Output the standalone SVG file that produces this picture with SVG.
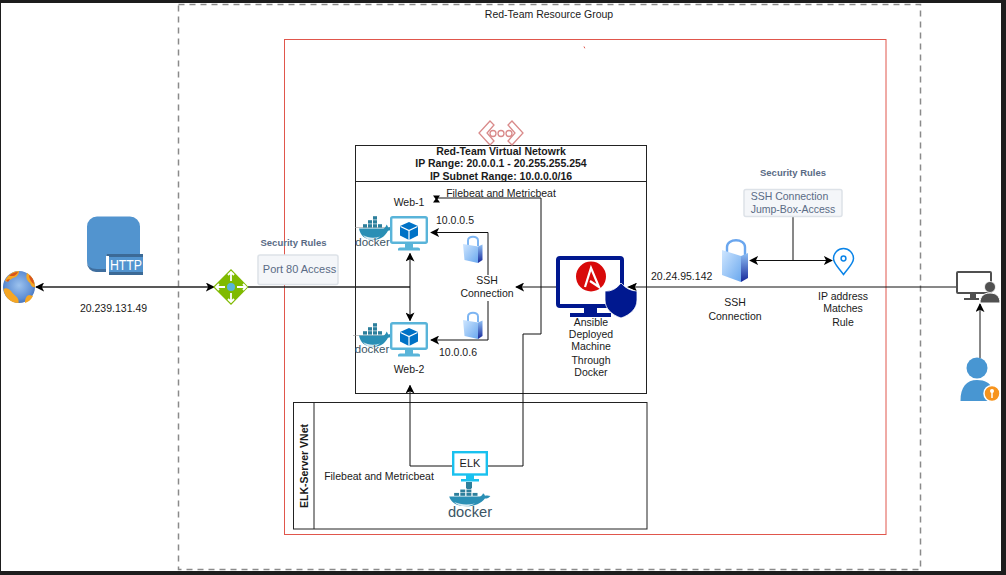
<svg xmlns="http://www.w3.org/2000/svg" xmlns:xlink="http://www.w3.org/1999/xlink" width="1006" height="575" viewBox="0 0 1006 575">
<style>
text{font-family:"Liberation Sans",Arial,sans-serif;font-size:10.5px;fill:#1a1a1a;text-anchor:middle}
.b{font-weight:bold}
.sr{font-weight:bold;font-size:9.500px;fill:#5a6b85}
.rule{fill:#f4f6f9;stroke:#dde2e8;stroke-width:1.500}
.rt{fill:#5a6b85;font-size:10.500px}
.box{fill:none;stroke:#222;stroke-width:1}
.c{fill:none;stroke:#111;stroke-width:1}
.c2{fill:none;stroke:#222;stroke-width:1.400}
.dt{fill:#3c5564}
</style>
<defs>
<marker id="a" viewBox="0 0 10 10" refX="9" refY="5" markerWidth="9" markerHeight="9" markerUnits="userSpaceOnUse" orient="auto-start-reverse"><path d="M0 0L10 5L0 10L2.500 5Z" fill="#000"/></marker>
<linearGradient id="lk" x1="0" y1="0" x2="1" y2="1"><stop offset="0" stop-color="#cfe6ff"/><stop offset="1" stop-color="#6aa8ee"/></linearGradient>
<linearGradient id="lks" x1="0" y1="0" x2="0" y2="1"><stop offset="0" stop-color="#8fc0f5"/><stop offset="1" stop-color="#16289a"/></linearGradient>
<radialGradient id="gl" cx=".5" cy=".45" r=".6"><stop offset="0" stop-color="#9cc2ee"/><stop offset=".7" stop-color="#5f8fd4"/><stop offset="1" stop-color="#3f6bb5"/></radialGradient>
<g id="vm">
<rect x="1.200" y="1.200" width="35.600" height="25.600" rx="1.500" fill="#fff" stroke="#59b4d9" stroke-width="2.400"/>
<path d="M15 28h8v4h-8zM8 33q0-1.500 2-1.500h18q2 0 2 1.500v1.500H8z" fill="#59b4d9"/>
<path d="M19 6l9 4v9.500l-9 4.500-9-4.500V10z" fill="#0072c6"/>
<path d="M10.500 10.500L19 14.500l8.500-4M19 14.500V24" fill="none" stroke="#fff" stroke-width="1.200"/>
</g>
<g id="whale">
<path d="M1 9.500H25.500c1.500-.5 2.500-2 3-4 1 1 1.500 2 1.500 3 1.500-.5 3-.5 4.500.3-1 2-2.500 3-4.500 3C27 17.500 22 21 15 21 7 21 2 16 1 9.500z" fill="#2a8fb5"/>
<path d="M5 16c5 3 11 3.500 17 1.500-3 2.500-6 3.500-8 3.500-4 0-7-2-9-5z" fill="#d7eaf2"/>
<g fill="#2d7f9c"><rect x="5" y="5.200" width="4" height="3.400"/><rect x="10" y="5.200" width="4" height="3.400"/><rect x="15" y="5.200" width="4" height="3.400"/><rect x="20" y="5.200" width="4" height="3.400"/><rect x="10" y="1.200" width="4" height="3.400"/><rect x="15" y="1.200" width="4" height="3.400"/><rect x="15" y="-2.800" width="4" height="3.400"/></g>
</g>
<g id="lock">
<path d="M5 11V5.500C5 .5 15 .5 15 5.500V11" fill="none" stroke="#7db5f2" stroke-width="2"/>
<path d="M0 9l15 2.500V28L1.500 25z" fill="url(#lk)"/>
<path d="M15 11.500l4.500-2V25L15 28z" fill="url(#lks)"/>
</g>
</defs>

<rect id="frame" width="1006" height="575" fill="#1d1d1d"/>
<rect id="canvas" x="1" y="3" width="1000" height="568" fill="#fff"/>

<g id="containers">
<rect id="resource-group" x="178.500" y="4.500" width="742" height="565" fill="none" stroke="#8a8a8a" stroke-width="1.500" stroke-dasharray="6 5"/>
<rect id="red-box" x="284.500" y="39.500" width="601.500" height="495" fill="none" stroke="#e0564c" stroke-width="1"/>
<path d="M584 46.500l.8 1.800" stroke="#e0564c" stroke-width="1" fill="none"/>
<g id="vnet"><rect class="box" x="355.500" y="145.500" width="291" height="248"/><path class="box" d="M355.500 181.500h291"/>
<text class="b" x="501" y="155">Red-Team Virtual Netowrk</text><text class="b" x="501" y="167">IP Range: 20.0.0.1 - 20.255.255.254</text><text class="b" x="501" y="180">IP Subnet Range: 10.0.0.0/16</text></g>
<g id="elk-vnet"><rect class="box" x="293.500" y="402.500" width="353.500" height="126.500"/><path class="box" d="M314 402.500v126.500"/>
<text class="b" transform="translate(307.500 466) rotate(-90)">ELK-Server VNet</text></g>
<text x="549" y="18">Red-Team Resource Group</text>
</g>

<g id="connectors">
<path class="c2" d="M36 287H214" marker-start="url(#a)" marker-end="url(#a)"/>
<path class="c2" d="M248 287H410"/>
<path class="c" d="M410 253.500V320.500" marker-start="url(#a)" marker-end="url(#a)"/>
<path class="c" d="M956 287H629" marker-end="url(#a)"/>
<path class="c" d="M556 287H516" marker-end="url(#a)"/>
<path class="c" d="M488 275V232.500H431" marker-end="url(#a)"/>
<path class="c" d="M488 301V340H431" marker-end="url(#a)"/>
<path class="c" d="M793 217V260.500"/>
<path class="c" d="M793 260.500H750" marker-end="url(#a)"/>
<path class="c" d="M793 260.500H832" marker-end="url(#a)"/>
<path class="c" d="M980 358V304" marker-end="url(#a)"/>
<path class="c" d="M452 466H410V385.500" marker-end="url(#a)"/>
<path class="c" d="M488 466H523V334H541V198H436"/>
<path d="M433 195.500h7l-2.500 3.500 2.500 3.500h-7l2.500-3.500z" fill="#000"/>
</g>

<g id="internet"><circle cx="19" cy="287" r="16" fill="url(#gl)"/>
<path d="M5 281c3-7 9-10 14-10 0 3-2 6-6 7-3 1-4 5-8 3zM27 273c5 3 8 8 8 14-3 1-4-2-5-4-2-2-5-4-3-10zM3.500 289c4-2 7 1 9 4 3 3 7 5 6 10-8 0-14-6-15-14zM29 295c2 0 3 1 4 1-2 4-5 6-8 7 0-4 1-7 4-8z" fill="#f5a623"/>
<path d="M9 276c3-3 6-4 9-4-1 2-3 4-5 4zM29 275c3 2 5 5 5 9-2-1-5-5-5-9zM6 280l4-1-2 3z" fill="#d9541a"/></g>

<g id="http"><path d="M97 216.500h33a10 10 0 0 1 10 10V254H106.500v17H97a10 10 0 0 1-10-10v-34.500a10 10 0 0 1 10-10z" fill="#5294cf"/>
<path d="M87 261v2a9 9 0 0 0 9 9h10.500v-3H97q-10 0-10-8z" fill="#3f6e9e"/>
<rect x="106.500" y="254" width="36.500" height="18" fill="#5294cf"/><rect x="106.500" y="254" width="36.500" height="3" fill="#3c6a96"/><rect x="109" y="272" width="34" height="3" fill="#3c6a96"/><rect x="106" y="256" width="3" height="19" fill="#fff"/>
<text x="126" y="270" textLength="32" lengthAdjust="spacingAndGlyphs" style="font-size:14.500px;fill:#fff">HTTP</text></g>
<text id="ip-public" x="113.500" y="312">20.239.131.49</text>

<g id="gateway"><path d="M231 269l17.500 18L231 305l-18-18z" fill="#7fba00"/>
<circle cx="231" cy="287" r="4" fill="#59b4d9"/>
<path d="M231 272v9M228 275l3-3 3 3M231 302v-9M228 299l3 3 3-3M216 287h9M219 284l-3 3 3 3M246 287h-9M243 284l3 3-3 3" fill="none" stroke="#fff" stroke-width="1.800"/></g>

<g id="rule-port80"><text class="sr" x="293.500" y="246">Security Rules</text><rect class="rule" x="258" y="255" width="80" height="29.500" rx="2"/><text class="rt" x="299.500" y="273" style="font-size:11px">Port 80 Access</text></g>

<g id="vnet-icon" fill="none" stroke="#d98a8a" stroke-width="1.300"><path d="M490 121l-11 12 11 12 4-4-7-8 7-8zM512 121l11 12-11 12-4-4 7-8-7-8z"/><circle cx="493" cy="133.500" r="3"/><circle cx="501" cy="133.500" r="3"/><circle cx="509" cy="133.500" r="3"/></g>

<g id="web-1"><path d="M355 227.500h36" stroke="#999" stroke-width=".6"/><use xlink:href="#whale" href="#whale" x="358" y="219"/><use xlink:href="#vm" href="#vm" x="390" y="216"/><text class="dt" x="372.500" y="246" style="font-size:11.500px">docker</text><text x="409" y="206">Web-1</text><text x="455" y="224">10.0.0.5</text></g>
<g id="web-2"><path d="M353 335.500h37" stroke="#999" stroke-width=".6"/><use xlink:href="#whale" href="#whale" x="358" y="326"/><use xlink:href="#vm" href="#vm" x="390" y="322"/><text class="dt" x="372" y="353" style="font-size:11.500px">docker</text><text x="409" y="373">Web-2</text><text x="458" y="356">10.0.0.6</text></g>
<use id="lock-1" xlink:href="#lock" href="#lock" x="463" y="235"/>
<use id="lock-2" xlink:href="#lock" href="#lock" x="463" y="311"/>
<text x="487" y="284" id="ssh-1"><tspan x="487">SSH</tspan><tspan x="487" dy="13">Connection</tspan></text>
<text x="501" y="197">Filebeat and Metricbeat</text>

<g id="ansible">
<rect x="558" y="258" width="64" height="48" rx="2" fill="#fff" stroke="#00188f" stroke-width="4"/>
<path d="M584 306h13v7h-13zM570 313h41v4h-41z" fill="#00188f"/>
<circle cx="591" cy="276.500" r="15" fill="#d80a0a"/>
<path d="M585 287l6-19 8 19-9-6" fill="none" stroke="#fff" stroke-width="2.200"/>
<path d="M605 291q9 1 16-8 7 8 16 8v9c0 9-7 15-16 18-9-3-16-9-16-18z" fill="#00188f" stroke="#fff" stroke-width=".8"/>
<path d="M636 283.500L627 287L636 290.500L634 287Z" fill="#000"/>
<text x="591" y="326">Ansible</text><text x="591" y="338">Deployed</text><text x="591" y="350">Machine</text><text x="591" y="364">Through</text><text x="591" y="376">Docker</text>
</g>

<g id="elk"><path d="M466 482h6v6h-6z" fill="#2d7f9c"/><use xlink:href="#whale" href="#whale" transform="translate(448 488.500) scale(1.230 .85)"/>
<rect x="453.200" y="452.200" width="33.600" height="22.300" fill="#fff" stroke="#19c1ef" stroke-width="2.400"/>
<path d="M466 475h8v4h-8zM461 479h18v2.500h-18z" fill="#19c1ef"/><text x="470" y="467" style="font-size:11px">ELK</text>
<text class="dt" x="470" y="517" style="font-size:14.700px">docker</text></g>
<text x="379" y="480">Filebeat and Metricbeat</text>

<g id="rule-ssh"><text class="sr" x="793" y="176">Security Rules</text><rect class="rule" x="744" y="189.500" width="98" height="27" rx="2"/><text class="rt" x="789.500" y="200">SSH Connection</text><text class="rt" x="793" y="213">Jump-Box-Access</text></g>

<g id="ssh-lock"><path d="M727 255v-8c0-9 18-9 18 0v8" fill="none" stroke="#6aa6ee" stroke-width="2.400"/><path d="M722 250l19 6v26l-19-7z" fill="url(#lk)"/><path d="M741 256l7-3v25l-7 4z" fill="url(#lks)"/></g>
<text x="651" y="280" id="ip-jump" style="text-anchor:start">20.24.95.142</text>
<text x="735" y="306">SSH</text><text x="735" y="320">Connection</text>

<g id="ip-pin"><path d="M843.500 274.500c-5-7-10-11-10-16a10 10 0 0 1 20 0c0 5-5 9-10 16z" fill="#fff" stroke="#0a84e8" stroke-width="1.500"/><circle cx="843.500" cy="258.500" r="2.400" fill="none" stroke="#0a84e8" stroke-width="1.500"/></g>
<text x="843" y="300">IP address</text><text x="843" y="312">Matches</text><text x="843" y="326">Rule</text>

<g id="workstation"><rect x="957" y="272" width="34" height="21" rx="1" fill="#fff" stroke="#505050" stroke-width="2"/><path d="M970 294h6v4h-6zM964 298h15v2h-15z" fill="#505050"/>
<path d="M980 303c0-7 4-10 10-10s10 3 10 10z" fill="#505050" stroke="#fff"/><circle cx="990" cy="287" r="5.500" fill="#505050" stroke="#fff" stroke-width=".8"/></g>

<g id="admin"><circle cx="977" cy="368" r="10.500" fill="#4896d2"/><path d="M960.500 401c0-14 6-21 16.500-21 8 0 13 3 15 8-4 3-6 8-4 13z" fill="#4896d2"/><circle cx="992" cy="393.500" r="8" fill="#f7941d" stroke="#fff" stroke-width="1.500"/><circle cx="992" cy="391" r="2" fill="#fff"/><path d="M992 392v6" stroke="#fff" stroke-width="1.500"/></g>
</svg>
